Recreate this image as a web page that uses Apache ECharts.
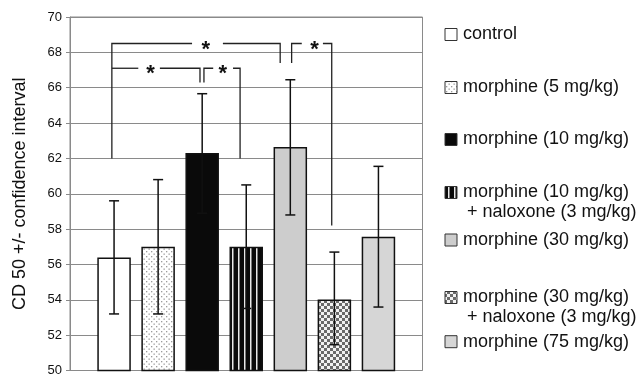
<!DOCTYPE html>
<html>
<head>
<meta charset="utf-8">
<script src="https://cdn.jsdelivr.net/npm/echarts@6/dist/echarts.min.js"></script>
<style>
html,body{margin:0;padding:0;background:#fff;}
#chart{width:644px;height:377px;}
</style>
</head>
<body>
<div id="chart"></div>
<script>
// ---- data ----
const categories = ['control', 'morphine (5 mg/kg)', 'morphine (10 mg/kg)', 'morphine (10 mg/kg) + naloxone (3 mg/kg)', 'morphine (30 mg/kg)', 'morphine (30 mg/kg) + naloxone (3 mg/kg)', 'morphine (75 mg/kg)'];
const positions = [1, 2, 3, 4, 5, 6, 7];
const means = [56.4, 57.0, 62.3, 57.0, 62.65, 54.02, 57.57];
const upper = [59.6, 60.8, 65.66, 60.5, 66.45, 56.7, 61.55];
const lower = [53.2, 53.2, 58.9, 53.51, 58.8, 51.46, 53.59];
const yTicks = [50, 52, 54, 56, 58, 60, 62, 64, 66, 68, 70];
// significance brackets (x in bar-slot units, y in CD50 units)
const bracketLines = [
  [[0.95, 62], [0.95, 68.5], [2.77, 68.5]],
  [[3.47, 68.5], [4.77, 68.5], [4.77, 67.4]],
  [[5.03, 67.4], [5.03, 68.5], [5.26, 68.5]],
  [[5.74, 68.5], [5.94, 68.5], [5.94, 58.2]],
  [[0.95, 67.1], [1.55, 67.1]],
  [[2.04, 67.1], [2.95, 67.1], [2.95, 66.3]],
  [[3.04, 66.3], [3.04, 67.1], [3.25, 67.1]],
  [[3.70, 67.1], [3.86, 67.1], [3.86, 62]]
];
const stars = [[3.08, 68.5], [5.55, 68.5], [1.83, 67.1], [3.47, 67.1]];

// ---- patterns ----
function pat(w, h, draw) {
  const c = document.createElement('canvas');
  c.width = w; c.height = h;
  const g = c.getContext('2d');
  draw(g, w, h);
  return { image: c, repeat: 'repeat' };
}
const fills = [
  '#ffffff',
  pat(5, 5, (g) => { g.fillStyle = '#fff'; g.fillRect(0, 0, 5, 5); g.fillStyle = '#9a9a9a'; g.fillRect(1, 1, 1.3, 1.3); g.fillRect(3.5, 3.5, 1.3, 1.3); }),
  '#0a0a0a',
  pat(6, 6, (g) => { g.fillStyle = '#0a0a0a'; g.fillRect(0, 0, 6, 6); g.fillStyle = '#e8e8e8'; g.fillRect(4, 0, 1.5, 6); }),
  '#cdcdcd',
  pat(6, 6, (g) => { g.fillStyle = '#f2f2f2'; g.fillRect(0, 0, 6, 6); g.fillStyle = '#6a6a6a'; g.fillRect(0, 0, 3, 3); g.fillRect(3, 3, 3, 3); }),
  '#d6d6d6'
];

const chart = echarts.init(document.getElementById('chart'), null, { renderer: 'canvas' });

const barData = positions.map((p, i) => ({
  value: [p, means[i]],
  itemStyle: { color: fills[i], borderColor: '#111', borderWidth: 1.5 }
}));

// legend layout
const legendY = [34.5, 87.5, 139.5, 192.5, 240, 297.5, 341.7];
const legendGraphics = [];
categories.forEach((c, i) => {
  const parts = c.split(' + ');
  legendGraphics.push({
    type: 'rect', shape: { x: 445, y: legendY[i] - 6, width: 12, height: 12 },
    style: { fill: fills[i], stroke: '#333', lineWidth: 1 }, z: 10
  });
  legendGraphics.push({
    type: 'text', x: 463, y: legendY[i],
    style: { text: parts[0], font: '18px "Liberation Sans", Arial, sans-serif', fill: '#111', verticalAlign: 'middle', align: 'left' }, z: 10
  });
  if (parts[1]) {
    legendGraphics.push({
      type: 'text', x: 467, y: legendY[i] + 20,
      style: { text: '+ ' + parts[1], font: '18px "Liberation Sans", Arial, sans-serif', fill: '#111', verticalAlign: 'middle', align: 'left' }, z: 10
    });
  }
});

const option = {
  animation: false,
  backgroundColor: '#fff',
  grid: { left: 70, top: 17, width: 352.5, height: 356.5, show: true, borderColor: '#8a8a8a', borderWidth: 1, backgroundColor: 'transparent' },
  xAxis: {
    type: 'value', min: 0, max: 8,
    axisLine: { show: false }, axisTick: { show: false }, axisLabel: { show: false }, splitLine: { show: false }
  },
  yAxis: {
    type: 'value', min: yTicks[0], max: yTicks[yTicks.length - 1], interval: 2,
    name: 'CD 50 +/- confidence interval', nameLocation: 'middle', nameRotate: 90, nameGap: 41,
    nameTextStyle: { fontSize: 18, fontFamily: 'Liberation Sans', color: '#111' },
    axisLine: { show: true, lineStyle: { color: '#8a8a8a' } },
    axisTick: { show: true, length: 4, lineStyle: { color: '#8a8a8a' } },
    axisLabel: { fontSize: 13, fontFamily: 'Liberation Sans', color: '#111', margin: 8 },
    splitLine: { show: true, lineStyle: { color: '#8a8a8a', width: 1 } }
  },
  graphic: legendGraphics,
  series: [
    {
      type: 'bar', data: barData, barWidth: 33.5, z: 2
    },
    {
      type: 'custom', z: 5,
      data: positions.map((p, i) => [p, lower[i], upper[i]]),
      renderItem: function (params, api) {
        const x = api.value(0);
        const lo = api.coord([x, api.value(1)]);
        const hi = api.coord([x, api.value(2)]);
        const hw = 5;
        const st = { stroke: '#111', lineWidth: 1.5, fill: null };
        return {
          type: 'group', children: [
            { type: 'line', shape: { x1: lo[0], y1: lo[1], x2: hi[0], y2: hi[1] }, style: st },
            { type: 'line', shape: { x1: hi[0] - hw, y1: hi[1], x2: hi[0] + hw, y2: hi[1] }, style: st },
            { type: 'line', shape: { x1: lo[0] - hw, y1: lo[1], x2: lo[0] + hw, y2: lo[1] }, style: st }
          ]
        };
      }
    },
    {
      type: 'custom', z: 6,
      data: bracketLines.map((pl, i) => [i]),
      renderItem: function (params, api) {
        const pl = bracketLines[params.dataIndex];
        const pts = pl.map(p => api.coord(p));
        return { type: 'polyline', shape: { points: pts }, style: { stroke: '#222', lineWidth: 1.3, fill: null } };
      }
    },
    {
      type: 'custom', z: 7,
      data: stars,
      renderItem: function (params, api) {
        const c = api.coord([api.value(0), api.value(1)]);
        return { type: 'text', x: c[0], y: c[1] + 6, style: { text: '*', font: 'bold 22px "Liberation Sans", Arial, sans-serif', fill: '#111', align: 'center', verticalAlign: 'middle' } };
      }
    }
  ]
};
chart.setOption(option);
</script>
</body>
</html>
